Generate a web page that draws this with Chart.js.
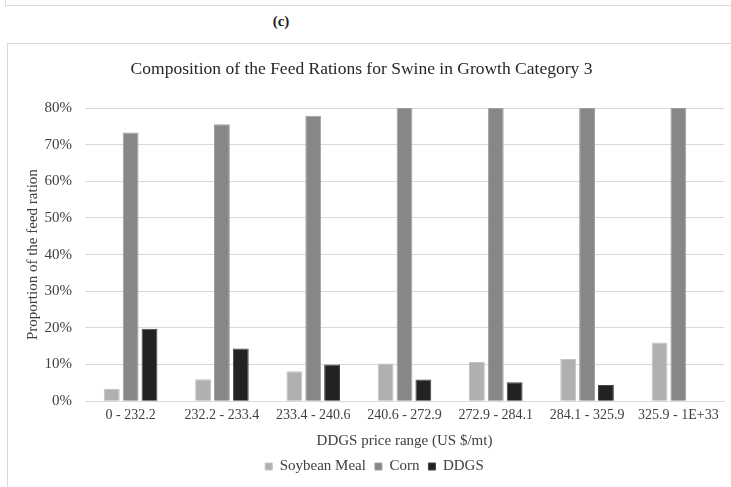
<!DOCTYPE html>
<html>
<head>
<meta charset="utf-8">
<script src="https://cdn.jsdelivr.net/npm/chart.js@4.4.0/dist/chart.umd.min.js"></script>
<style>
  html, body { margin: 0; padding: 0; background: #fff; width: 731px; height: 487px; overflow: hidden; }
  #topbox { position: absolute; left: 5px; top: -20px; width: 760px; height: 26px; border: 1px solid #d9d9d9; border-top: none; box-sizing: border-box; }
  #label { position: absolute; left: 0; width: 562px; top: 13px; text-align: center; font-family: "Liberation Serif", serif; font-weight: bold; font-size: 15px; color: #222; }
  #box { position: absolute; left: 7px; top: 43px; width: 760px; height: 470px; border: 1px solid #d9d9d9; box-sizing: border-box; }
  #wrap { position: absolute; left: 0; top: 0; width: 731px; height: 487px; }
</style>
</head>
<body>
<div id="topbox"></div>
<div id="label">(c)</div>
<div id="box"></div>
<div id="wrap"><canvas id="c" width="731" height="487"></canvas></div>
<script>
const categories = ["0 - 232.2", "232.2 - 233.4", "233.4 - 240.6", "240.6 - 272.9", "272.9 - 284.1", "284.1 - 325.9", "325.9 - 1E+33"];
const soybeanMeal = [3.4, 6.0, 8.2, 10.3, 10.7, 11.5, 16.0];
const corn = [73.3, 75.6, 77.9, 80.0, 80.0, 80.0, 80.0];
const ddgs = [19.8, 14.4, 10.0, 5.9, 5.2, 4.4, 0];
const yTicks = [0, 10, 20, 30, 40, 50, 60, 70, 80];

const serif = "'Liberation Serif', 'Times New Roman', serif";

const shiftBlocks = {
  id: 'shiftBlocks',
  afterLayout(chart) {
    if (chart.legend) { chart.legend.left += 9; chart.legend.right += 9; }
    if (chart.titleBlock) { chart.titleBlock.left -= 4; chart.titleBlock.right -= 4; }
  }
};

new Chart(document.getElementById('c'), {
  type: 'bar',
  data: {
    labels: categories,
    datasets: [
      { label: 'Soybean Meal', data: soybeanMeal, backgroundColor: '#b0b0b0', borderColor: '#c4c4c4', borderWidth: 1 },
      { label: 'Corn', data: corn, backgroundColor: '#878787', borderColor: '#a0a0a0', borderWidth: 1 },
      { label: 'DDGS', data: ddgs, backgroundColor: '#222222', borderColor: '#444444', borderWidth: 1 }
    ]
  },
  plugins: [shiftBlocks],
  options: {
    responsive: false,
    animation: false,
    layout: { padding: { left: 7, right: 7, top: 0, bottom: 3 } },
    datasets: { bar: { categoryPercentage: 0.62, barPercentage: 0.84 } },
    plugins: {
      title: {
        display: true,
        text: 'Composition of the Feed Rations for Swine in Growth Category 3',
        font: { family: serif, size: 17.5, weight: 'normal' },
        color: '#262626',
        padding: { top: 59, bottom: 28 }
      },
      legend: {
        position: 'bottom',
        labels: {
          font: { family: serif, size: 15 },
          color: '#404040',
          boxWidth: 7,
          boxHeight: 7,
          padding: 9
        }
      },
      tooltip: { enabled: false }
    },
    scales: {
      x: {
        grid: { display: false, drawTicks: false },
        border: { display: true, color: '#d9d9d9' },
        ticks: { font: { family: serif, size: 14 }, color: '#404040', maxRotation: 0, autoSkip: false, padding: 6 },
        title: { display: true, text: 'DDGS price range (US $/mt)', font: { family: serif, size: 15 }, color: '#404040', padding: { top: 2, bottom: 0 } }
      },
      y: {
        min: 0, max: 80,
        afterBuildTicks: (s) => { s.ticks = yTicks.map(v => ({ value: v })); },
        afterFit: (s) => { s.width = 78; },
        grid: { color: '#d9d9d9', drawTicks: false },
        border: { display: false },
        ticks: { font: { family: serif, size: 15 }, color: '#404040', padding: 13, callback: (v) => v + '%' },
        title: { display: true, text: 'Proportion of the feed ration', font: { family: serif, size: 15 }, color: '#404040', padding: { top: 17, bottom: 0 } }
      }
    }
  }
});
</script>
</body>
</html>
